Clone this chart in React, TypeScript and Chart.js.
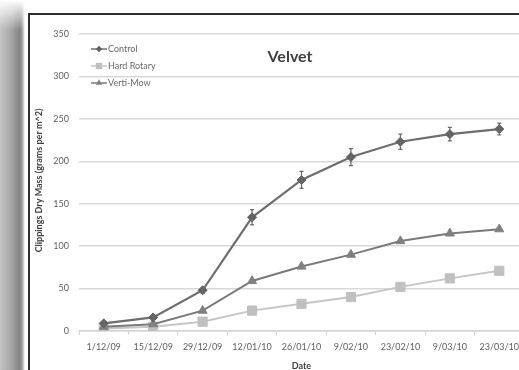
import React, { useEffect, useRef } from "react";
import { Chart, registerables } from "chart.js";

Chart.register(...registerables);

const dates = [
  "1/12/09", "15/12/09", "29/12/09", "12/01/10", "26/01/10",
  "9/02/10", "23/02/10", "9/03/10", "23/03/10",
];
const control = [9, 16, 48, 134, 178, 205, 223, 232, 238];
const controlError = [2, 3, 3, 9, 10, 10, 9, 8, 7];
const hardRotary = [3, 5, 11, 24, 32, 40, 52, 62, 71];
const vertiMow = [5, 8, 24, 59, 76, 90, 106, 115, 120];
const seriesNames = ["Control", "Hard Rotary", "Verti-Mow"];
const yTicks = [0, 50, 100, 150, 200, 250, 300, 350];
const yAxisTitle = "Clippings Dry Mass (grams per m^2)";

const FONT = "Lato, 'Open Sans', sans-serif";
const TEXT_GRAY = "#5f5f5f";
const DARK = "#404040";

// Vertical error bars on the Control series
const errorBars = {
  id: "errorBars",
  afterDatasetsDraw(chart: any) {
    const { ctx, scales } = chart;
    const meta = chart.getDatasetMeta(0);
    ctx.save();
    ctx.strokeStyle = "#6a6a6a";
    ctx.lineWidth = 1.2;
    meta.data.forEach((pt: any, i: number) => {
      const v = control[i];
      const e = controlError[i];
      const yTop = scales.y.getPixelForValue(v + e);
      const yBot = scales.y.getPixelForValue(v - e);
      const x = pt.x;
      ctx.beginPath();
      ctx.moveTo(x, yTop);
      ctx.lineTo(x, yBot);
      ctx.moveTo(x - 2, yTop);
      ctx.lineTo(x + 2, yTop);
      ctx.moveTo(x - 2, yBot);
      ctx.lineTo(x + 2, yBot);
      ctx.stroke();
    });
    ctx.restore();
  },
};

function drawMarker(ctx: CanvasRenderingContext2D, style: string, x: number, y: number, r: number) {
  ctx.beginPath();
  if (style === "rectRot") {
    ctx.moveTo(x, y - r);
    ctx.lineTo(x + r, y);
    ctx.lineTo(x, y + r);
    ctx.lineTo(x - r, y);
  } else if (style === "rect") {
    const s = r * Math.SQRT1_2;
    ctx.rect(x - s, y - s, 2 * s, 2 * s);
  } else {
    const h = r * 1.5;
    const w = (r * Math.sqrt(3)) / 2;
    ctx.moveTo(x, y - r);
    ctx.lineTo(x + w, y + h - r);
    ctx.lineTo(x - w, y + h - r);
  }
  ctx.closePath();
  ctx.fill();
}

// Chart title, vertical axis title and in-plot legend
const overlay = {
  id: "overlay",
  afterDraw(chart: any) {
    const { ctx, chartArea } = chart;
    ctx.save();
    ctx.fillStyle = DARK;
    ctx.font = `bold 16px ${FONT}`;
    ctx.textAlign = "center";
    ctx.textBaseline = "middle";
    ctx.fillText("Velvet", chartArea.left + 211, chartArea.top + 23);

    ctx.save();
    ctx.translate(39, (chartArea.top + chartArea.bottom) / 2 - 2);
    ctx.rotate(-Math.PI / 2);
    ctx.font = `bold 9px ${FONT}`;
    ctx.fillStyle = DARK;
    ctx.fillText(yAxisTitle, 0, 0);
    ctx.restore();

    ctx.font = `9px ${FONT}`;
    ctx.textAlign = "left";
    seriesNames.forEach((name, i) => {
      const ds = chart.data.datasets[i];
      const y = chartArea.top + 15 + i * 17;
      const x0 = chartArea.left + 12;
      ctx.strokeStyle = ds.borderColor;
      ctx.lineWidth = 1.5;
      ctx.beginPath();
      ctx.moveTo(x0, y);
      ctx.lineTo(x0 + 16, y);
      ctx.stroke();
      ctx.fillStyle = ds.pointBackgroundColor;
      drawMarker(ctx, ds.pointStyle, x0 + 8, y, ds.pointRadius * 0.7);
      ctx.fillStyle = "#6a6a6a";
      ctx.fillText(name, x0 + 17, y + 0.5);
    });
    ctx.restore();
  },
};

export default function App() {
  const ref = useRef<HTMLCanvasElement | null>(null);

  useEffect(() => {
    if (!ref.current) return;
    const chart = new Chart(ref.current, {
      type: "line",
      data: {
        labels: dates,
        datasets: [
          {
            label: seriesNames[0],
            data: control,
            borderColor: "#6e6e6e",
            borderWidth: 2.2,
            pointStyle: "rectRot",
            pointRadius: 4.5,
            pointBackgroundColor: "#626262",
            pointBorderColor: "#626262",
            pointBorderWidth: 1,
            tension: 0,
            order: 0,
          },
          {
            label: seriesNames[1],
            data: hardRotary,
            borderColor: "#c6c6c6",
            borderWidth: 2,
            pointStyle: "rect",
            pointRadius: 6.5,
            pointBackgroundColor: "#c0c0c0",
            pointBorderColor: "#c0c0c0",
            pointBorderWidth: 1,
            tension: 0,
            order: 2,
          },
          {
            label: seriesNames[2],
            data: vertiMow,
            borderColor: "#7a7a7a",
            borderWidth: 2,
            pointStyle: "triangle",
            pointRadius: 5.2,
            pointBackgroundColor: "#808080",
            pointBorderColor: "#808080",
            pointBorderWidth: 1,
            tension: 0,
            order: 1,
          },
        ],
      },
      options: {
        responsive: false,
        animation: false,
        maintainAspectRatio: false,
        layout: { padding: { left: 0, right: 16, top: 34, bottom: 0 } },
        plugins: {
          legend: { display: false },
          title: { display: false },
          tooltip: { enabled: false },
        },
        scales: {
          x: {
            type: "category",
            offset: true,
            afterFit(scale: any) {
              scale.height = 45;
            },
            grid: {
              display: true,
              offset: true,
              drawOnChartArea: false,
              drawTicks: true,
              tickLength: 4,
              color: "#d4d4d4",
              lineWidth: 1,
            },
            border: { display: true, color: "#d4d4d4", width: 1.5 },
            ticks: {
              color: TEXT_GRAY,
              font: { family: FONT, size: 9 },
              padding: 7,
              maxRotation: 0,
              autoSkip: false,
            },
            title: {
              display: true,
              text: "Date",
              color: DARK,
              font: { family: FONT, size: 9, weight: "bold" },
              padding: { top: 0, bottom: 5 },
            },
          },
          y: {
            min: 0,
            max: 350,
            afterFit(scale: any) {
              scale.width = 79;
            },
            afterBuildTicks(scale: any) {
              scale.ticks = yTicks.map((v) => ({ value: v }));
            },
            grid: {
              color: "#d9d9d9",
              lineWidth: 1.5,
              drawTicks: false,
            },
            border: { display: false },
            ticks: {
              color: TEXT_GRAY,
              font: { family: FONT, size: 9 },
              padding: 10,
            },
          },
        },
      },
      plugins: [errorBars, overlay],
    });
    return () => chart.destroy();
  }, []);

  return (
    <div
      style={{
        position: "fixed",
        left: 0,
        top: 0,
        width: 519,
        height: 370,
        overflow: "hidden",
        background: "#fff",
      }}
    >
      <div
        style={{
          position: "absolute",
          left: 0,
          top: 0,
          width: 25,
          height: 370,
          background:
            "linear-gradient(to right, #c4c4c4 0%, #a6a6a6 45%, #858585 78%, #9a9a9a 88%, #ffffff 100%)",
          WebkitMaskImage: "linear-gradient(to bottom, transparent 0px, black 30px)",
          maskImage: "linear-gradient(to bottom, transparent 0px, black 30px)",
        }}
      />
      <div
        style={{
          position: "absolute",
          left: 28,
          top: 13,
          width: 600,
          height: 500,
          borderLeft: "2px solid #2e2e2e",
          borderTop: "2px solid #2e2e2e",
        }}
      />
      <canvas
        ref={ref}
        width={540}
        height={376}
        style={{ position: "absolute", left: 0, top: 0, width: 540, height: 376 }}
      />
    </div>
  );
}
